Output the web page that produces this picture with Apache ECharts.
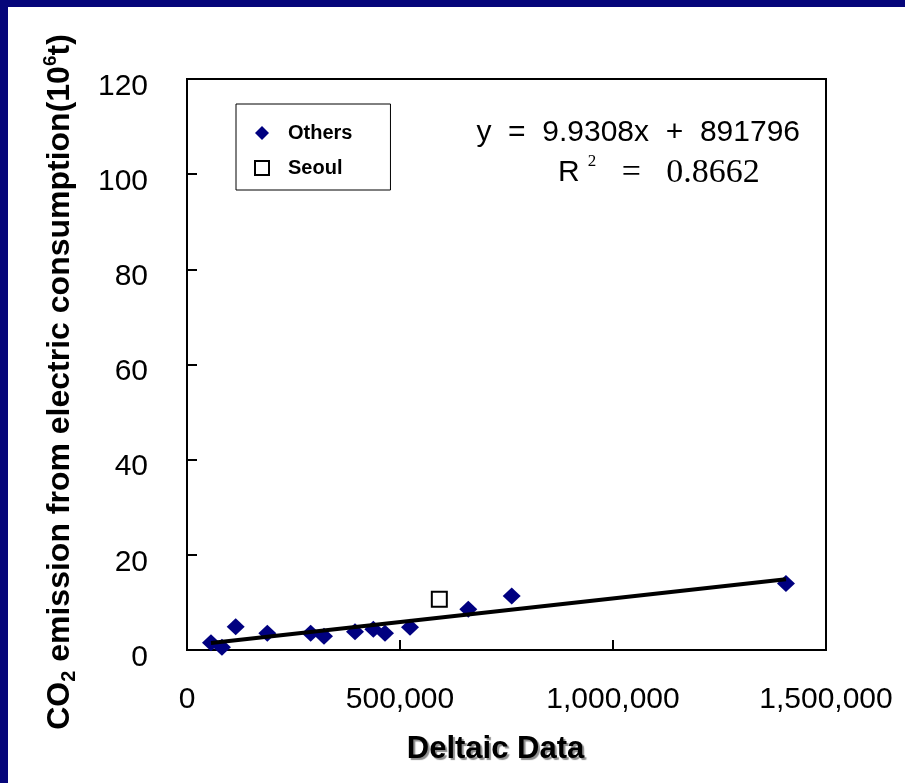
<!DOCTYPE html>
<html>
<head>
<meta charset="utf-8">
<script src="https://cdn.jsdelivr.net/npm/echarts@6/dist/echarts.min.js"></script>
<style>
html,body{margin:0;padding:0;background:#fff;}
#chart{width:905px;height:783px;}
</style>
</head>
<body>
<div id="chart"></div>
<script>
// ---- data ----
var othersX = [56300, 82000, 114300, 188500, 290300, 321600, 394400, 437400, 464800, 523500, 660300, 762200, 1406000];
var othersY = [1.5, 0.6, 4.9, 3.5, 3.5, 2.9, 3.85, 4.35, 3.5, 4.77, 8.55, 11.35, 14.0];
var seoulX = [592300];
var seoulY = [10.65];
var xTicks = [0, 500000, 1000000, 1500000];
var yTicks = [0, 20, 40, 60, 80, 100, 120];
// regression shown on the chart: y = 9.9308x + 891796 (t) -> in 10^6 t
var slope = 9.9308e-6;
var intercept = 0.891796;
var trendX = [56300, 1406000];

var othersData = othersX.map(function (x, i) { return [x, othersY[i]]; });
var seoulData = seoulX.map(function (x, i) { return [x, seoulY[i]]; });
var trendData = trendX.map(function (x) { return [x, slope * x + intercept]; });

var navy = '#06067a';
var sans = 'Liberation Sans, Arial, sans-serif';
var serif = 'Liberation Serif, DejaVu Serif, serif';
var chart = echarts.init(document.getElementById('chart'), null, {renderer: 'canvas'});
chart.setOption({
  backgroundColor: '#ffffff',
  animation: false,
  textStyle: {fontFamily: sans},
  grid: {left: 187, top: 79, right: 79, bottom: 133, show: true, borderColor: '#000', borderWidth: 2, backgroundColor: 'transparent'},
  xAxis: {
    type: 'value', min: xTicks[0], max: xTicks[xTicks.length - 1], interval: 500000,
    splitLine: {show: false},
    axisLine: {lineStyle: {color: '#000', width: 2}},
    axisTick: {inside: true, length: 10, lineStyle: {color: '#000', width: 2}},
    axisLabel: {color: '#000', fontSize: 30, margin: 35,
      formatter: function (v) { return v.toLocaleString('en-US'); }},
    name: 'Deltaic Data', nameLocation: 'middle', nameGap: 84,
    nameTextStyle: {color: '#000', fontSize: 31, fontWeight: 'bold', padding: [0, 22, 0, 0],
      textShadowColor: 'rgba(0,0,0,0.45)', textShadowOffsetX: 2, textShadowOffsetY: 2, textShadowBlur: 1}
  },
  yAxis: {
    type: 'value', min: yTicks[0], max: yTicks[yTicks.length - 1], interval: 20,
    splitLine: {show: false},
    axisLine: {lineStyle: {color: '#000', width: 2}},
    axisTick: {inside: true, length: 10, lineStyle: {color: '#000', width: 2}},
    axisLabel: {color: '#000', fontSize: 30, margin: 39, verticalAlign: 'top', lineHeight: 15}
  },
  legend: {
    data: ['Others', 'Seoul'],
    orient: 'vertical', left: 236, top: 104,
    itemWidth: 14, itemHeight: 14, itemGap: 15,
    padding: [19, 38, 12, 18],
    borderColor: '#000', borderWidth: 1, backgroundColor: '#fff',
    textStyle: {color: '#000', fontSize: 20, fontWeight: 'bold', lineHeight: 20, padding: [0, 0, 0, 14]}
  },
  graphic: [
    {type: 'rect', shape: {x: 0, y: 0, width: 905, height: 7}, style: {fill: navy}, z: 100},
    {type: 'rect', shape: {x: 0, y: 0, width: 8, height: 783}, style: {fill: navy}, z: 100},
    {type: 'text', x: 60, y: 382, rotation: Math.PI / 2, z: 100,
      style: {
        text: '{a|CO}{sub|2}{a| emission from electric consumption(10}{sup|6}{a|t)}',
        align: 'center', verticalAlign: 'middle',
        rich: {
          a: {fontSize: 32, fontWeight: 'bold', fill: '#000', lineHeight: 38, fontFamily: sans},
          sub: {fontSize: 20, fontWeight: 'bold', fill: '#000', lineHeight: 20, verticalAlign: 'bottom', fontFamily: sans},
          sup: {fontSize: 19, fontWeight: 'bold', fill: '#000', lineHeight: 19, verticalAlign: 'top', fontFamily: sans}
        }
      }},
    {type: 'text', x: 800, y: 133, z: 100,
      style: {text: 'y  =  9.9308x  +  891796', align: 'right', verticalAlign: 'middle',
        fontSize: 30, fill: '#000', fontFamily: sans}},
    {type: 'text', x: 558, y: 173, z: 100,
      style: {
        text: '{r|R}{sup|2}{s|   =   0.8662}',
        align: 'left', verticalAlign: 'middle',
        rich: {
          r: {fontSize: 30, fill: '#000', lineHeight: 40, fontFamily: sans},
          sup: {fontSize: 17, fill: '#000', lineHeight: 17, verticalAlign: 'top', padding: [0, 0, 0, 8], fontFamily: serif},
          s: {fontSize: 34, fill: '#000', lineHeight: 40, fontFamily: serif}
        }
      }}
  ],
  series: [
    {name: 'Others', type: 'scatter', data: othersData, symbol: 'diamond', symbolSize: [18, 17],
      itemStyle: {color: '#000080', opacity: 1}, z: 3},
    {name: 'Seoul', type: 'scatter', data: seoulData, symbol: 'rect', symbolSize: 15,
      itemStyle: {color: '#fff', borderColor: '#000', borderWidth: 2, opacity: 1}, z: 3},
    {name: 'Trend', type: 'line', data: trendData, symbol: 'none', silent: true,
      lineStyle: {color: '#000', width: 4}, z: 4}
  ]
});
</script>
</body>
</html>
